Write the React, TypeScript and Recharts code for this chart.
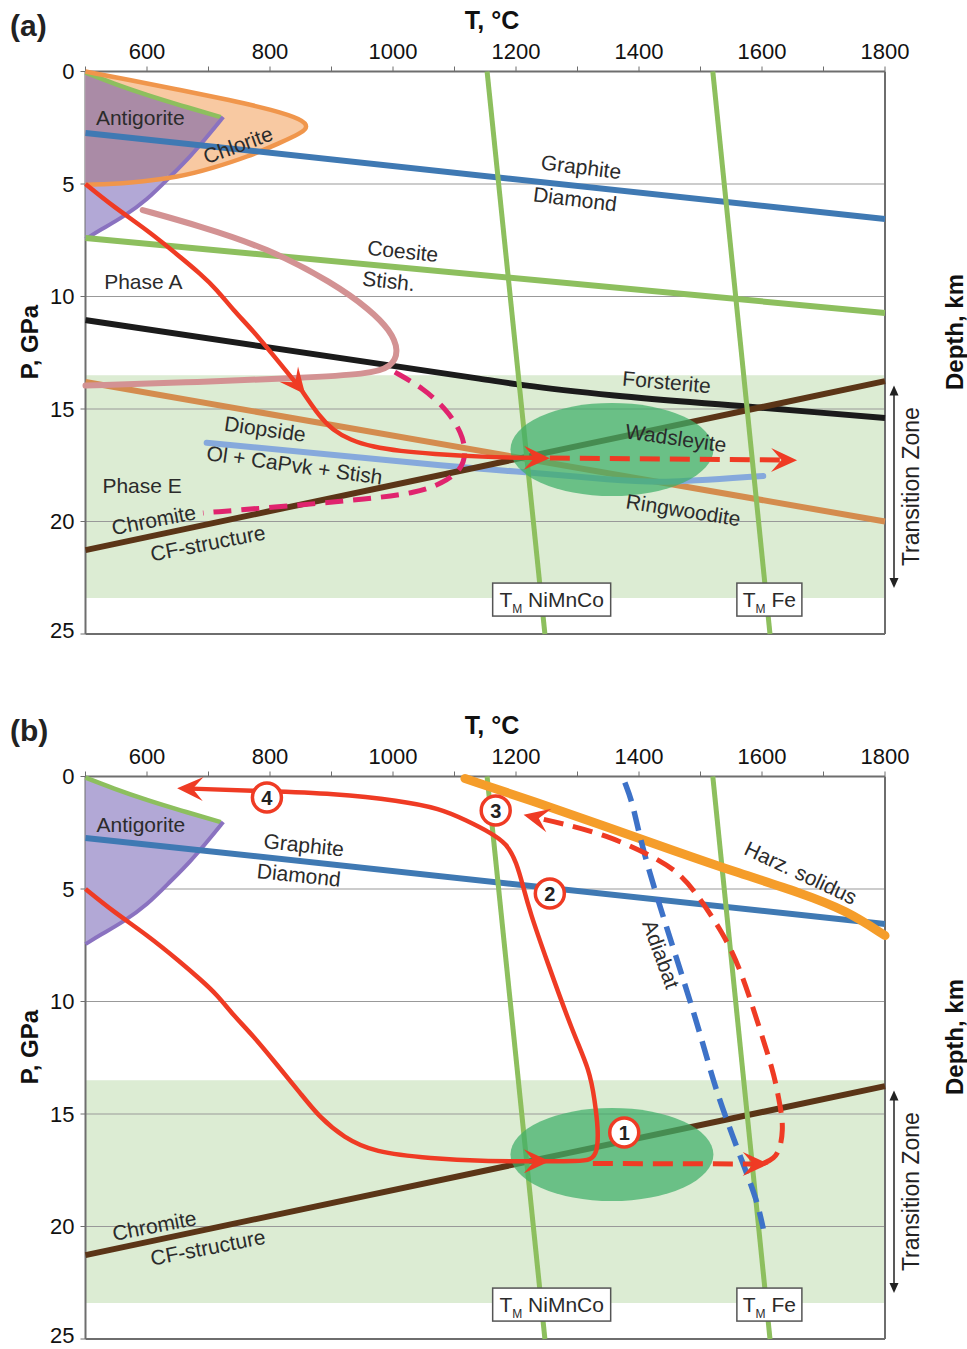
import React from 'react';
import { ComposedChart, XAxis, YAxis, Scatter, ReferenceArea, ReferenceLine, Curve } from 'recharts';

type TP = [number, number]; // [T °C, P GPa]
type Pt = { x: number; y: number };

const FONT = '"Liberation Sans", Arial, Helvetica, sans-serif';

// axes
const T_TICKS = [500, 600, 700, 800, 900, 1000, 1100, 1200, 1300, 1400, 1500, 1600, 1700, 1800];
const P_TICKS = [0, 5, 10, 15, 20, 25];
const P_GRID = [5, 10, 15, 20];
const DEPTH_P = [6.56, 13.55, 23.5];
const DEPTH_KM = ['200', '410', '660'];
const TZ_P: TP = [13.5, 23.4];
const TZ_ARROW: TP[] = [[1800, 13.95], [1800, 22.95]];

// metal melting curves
const TM_NIMNCO: TP[] = [[1153, 0], [1247, 25]];
const TM_FE: TP[] = [[1520, 0], [1613, 25]];

// phase boundaries
const GRAPHITE_DIAMOND: TP[] = [[500, 2.73], [1800, 6.56]];
const COESITE_STISH: TP[] = [[500, 7.4], [1800, 10.73]];
const FORSTERITE_WADS: TP[] = [[500, 11.05], [1140, 13.65], [1215, 13.95], [1360, 14.4], [1580, 14.9], [1800, 15.4]];
const DIOPSIDE: TP[] = [[500, 13.8], [1800, 20.0]];
const OL_CAPVK: TP[] = [[697, 16.5], [1077, 17.5], [1211, 17.8], [1348, 18.12], [1455, 18.22], [1602, 17.98]];
const CHROMITE_CF: TP[] = [[500, 21.27], [1800, 13.76]];
const PHASE_A: TP[] = [[593, 6.16], [686, 6.87], [795, 7.84], [903, 9.4], [963, 10.6], [995, 11.49], [1010, 12.4], [998, 13.15], [960, 13.45], [849, 13.62], [686, 13.8], [500, 13.96]];
const PHASE_E: TP[] = [[1003, 13.36], [1049, 14.07], [1088, 15.04], [1112, 16.07], [1119, 16.96], [1111, 17.71], [1081, 18.29], [1039, 18.73], [957, 19.0], [849, 19.27], [691, 19.62]];

// hydrous phase fields
const CHLORITE: TP[] = [[500, 0], [572, 0.38], [654, 0.82], [735, 1.27], [805, 1.71], [852, 2.13], [862, 2.45], [852, 2.72], [816, 3.18], [763, 3.8], [707, 4.29], [654, 4.69], [572, 4.96], [500, 5.04]];
const ANTIGORITE: TP[] = [[500, 0.05], [545, 0.53], [600, 1.05], [654, 1.5], [714, 2.0], [724, 2.02], [703, 2.73], [670, 3.8], [637, 4.69], [600, 5.71], [561, 6.47], [524, 7.04], [500, 7.45]];
const ANTIG_CHLORITE: TP[] = [[500, 0.05], [545, 0.53], [600, 1.05], [654, 1.5], [714, 2.0], [724, 2.02], [703, 2.73], [670, 3.8], [645, 4.55], [600, 4.86], [500, 5.0]];
const ANTIG_TOP: TP[] = [[500, 0.05], [545, 0.53], [600, 1.05], [654, 1.5], [720, 2.03]];
const ANTIG_EDGE: TP[] = [[724, 2.02], [703, 2.73], [670, 3.8], [637, 4.69], [600, 5.71], [561, 6.47], [524, 7.04], [500, 7.45]];

// diamond growth region (ellipse extremes)
const GROWTH_ZONE: TP[] = [[1191, 16.8], [1521, 16.8], [1356, 14.73], [1356, 18.87]];

// (a) slab path
const PATH_A1: TP[] = [[500, 5.0], [545, 6.0], [600, 7.04], [654, 8.24], [686, 8.97], [714, 9.7], [740, 10.6], [772, 11.5], [811, 12.8], [849, 14.07]];
const PATH_A2: TP[] = [[849, 14.07], [881, 15.36], [902, 15.93], [930, 16.38], [968, 16.69], [1011, 16.87], [1065, 17.0], [1141, 17.13], [1242, 17.18]];
const PATH_A3: TP[] = [[1255, 17.18], [1644, 17.27]];

// (b) exhumation paths
const HARZ_SOLIDUS: TP[] = [[1117, 0.09], [1239, 1.2], [1348, 2.24], [1456, 3.29], [1564, 4.31], [1662, 5.16], [1738, 5.96], [1800, 7.07]];
const ADIABAT: TP[] = [[1377, 0.27], [1390, 1.2], [1401, 2.7], [1429, 5.4], [1494, 10.84], [1520, 13.5], [1543, 15.3], [1569, 17.2], [1592, 18.84], [1602, 20.1]];
const PATH_B1: TP[] = [[500, 5.0], [545, 6.0], [600, 7.04], [654, 8.24], [686, 9.0], [714, 9.7], [740, 10.6], [772, 11.5], [811, 12.8], [850, 14.1], [881, 15.16], [920, 16.04], [968, 16.7], [1065, 16.98], [1141, 17.1], [1242, 17.1]];
const PATH_B2: TP[] = [[1242, 17.1], [1300, 17.1], [1322, 17.05], [1332, 16.7], [1334, 15.73], [1328, 14.4], [1320, 13.07], [1293, 11.42], [1250, 8.18], [1222, 5.96], [1212, 4.93], [1201, 3.82], [1185, 2.98], [1158, 2.49], [1120, 1.96], [1076, 1.42], [1011, 1.07], [903, 0.76], [795, 0.65], [662, 0.53]];
const PATH_B3: TP[] = [[1325, 17.2], [1598, 17.22]];
const PATH_B4: TP[] = [[1600, 17.22], [1620, 17.0], [1630, 16.5], [1634, 15.7], [1632, 15.0], [1625, 14.0], [1618, 13.07], [1592, 10.84], [1564, 8.49], [1537, 6.98], [1494, 5.2], [1462, 4.18], [1413, 3.42], [1348, 2.62], [1276, 2.09], [1225, 1.78]];
const STEPS = [
  { t: 1376, p: 15.82, text: '1' },
  { t: 1255, p: 5.2, text: '2' },
  { t: 1167, p: 1.51, text: '3' },
  { t: 795, p: 0.93, text: '4' },
];

// annotations
const LABELS_A = [
  { t: 589, p: 2.07, text: 'Antigorite', angle: 0 },
  { t: 748, p: 3.27, text: 'Chlorite', angle: -20 },
  { t: 1306, p: 4.24, text: 'Graphite', angle: 7 },
  { t: 1296, p: 5.67, text: 'Diamond', angle: 7 },
  { t: 1016, p: 7.98, text: 'Coesite', angle: 6 },
  { t: 993, p: 9.31, text: 'Stish.', angle: 6 },
  { t: 594, p: 9.36, text: 'Phase A', angle: 0 },
  { t: 1445, p: 13.8, text: 'Forsterite', angle: 5 },
  { t: 1460, p: 16.29, text: 'Wadsleyite', angle: 8 },
  { t: 792, p: 15.89, text: 'Diopside', angle: 8 },
  { t: 840, p: 17.49, text: 'Ol + CaPvk + Stish', angle: 8 },
  { t: 592, p: 18.42, text: 'Phase E', angle: 0 },
  { t: 611, p: 19.93, text: 'Chromite', angle: -11 },
  { t: 699, p: 20.96, text: 'CF-structure', angle: -11 },
  { t: 1472, p: 19.49, text: 'Ringwoodite', angle: 9 },
];
const LABELS_B = [
  { t: 590, p: 2.16, text: 'Antigorite', angle: 0 },
  { t: 855, p: 3.04, text: 'Graphite', angle: 6 },
  { t: 847, p: 4.38, text: 'Diamond', angle: 6 },
  { t: 1436, p: 7.9, text: 'Adiabat', angle: 70 },
  { t: 1663, p: 4.28, text: 'Harz. solidus', angle: 25 },
  { t: 612, p: 19.96, text: 'Chromite', angle: -11 },
  { t: 699, p: 20.93, text: 'CF-structure', angle: -11 },
];
const TM_BOXES = [
  { t: 1258, p: 23.47, text: 'NiMnCo' },
  { t: 1612, p: 23.47, text: 'Fe' },
];

const RED = '#ef3b24';
const GREEN = '#8dbf5e';
const BOX_W: Record<string, number> = { NiMnCo: 118, Fe: 65 };

const rows = (pts: TP[]) => pts.map(([t, p]) => ({ t, p }));
const noDot = () => <g />;

function arrowHead(pts: Pt[], color: string) {
  const n = pts.length;
  const tip = pts[n - 1];
  let k = n - 2;
  while (k > 0 && Math.hypot(tip.x - pts[k].x, tip.y - pts[k].y) < 15) k--;
  const a = Math.atan2(tip.y - pts[k].y, tip.x - pts[k].x);
  const L = 26, W = 12, ext = 8;
  const c = Math.cos(a), s = Math.sin(a);
  const local = [[ext, 0], [ext - L, -W], [ext - 0.6 * L, 0], [ext - L, W]];
  const d = local.map(([u, v]) => `${tip.x + u * c - v * s},${tip.y + u * s + v * c}`).join(' ');
  return <polygon points={d} fill={color} />;
}

type CurveOpts = { stroke?: string; width?: number; fill?: string; type?: string; dash?: string; arrow?: boolean; cap?: string };

function curve(key: string, pts: TP[], o: CurveOpts) {
  return (
    <Scatter
      key={key}
      data={rows(pts)}
      shape={noDot}
      isAnimationActive={false}
      line={(lp: any) => (
        <g>
          <Curve
            type={(o.type ?? 'basis') as any}
            points={lp.points}
            stroke={o.stroke ?? 'none'}
            strokeWidth={o.width ?? 0}
            fill={o.fill ?? 'none'}
            strokeDasharray={o.dash}
            strokeLinecap={(o.cap ?? 'butt') as any}
            strokeLinejoin="round"
          />
          {o.arrow && arrowHead(lp.points, o.stroke ?? RED)}
        </g>
      )}
    />
  );
}

function ellipse(key: string, pts: TP[]) {
  return (
    <Scatter
      key={key}
      data={rows(pts)}
      shape={noDot}
      isAnimationActive={false}
      line={(lp: any) => {
        const xs = lp.points.map((q: Pt) => q.x);
        const ys = lp.points.map((q: Pt) => q.y);
        const x0 = Math.min(...xs), x1 = Math.max(...xs), y0 = Math.min(...ys), y1 = Math.max(...ys);
        return <ellipse cx={(x0 + x1) / 2} cy={(y0 + y1) / 2} rx={(x1 - x0) / 2} ry={(y1 - y0) / 2} fill="#3fae68" fillOpacity={0.72} />;
      }}
    />
  );
}

const textShape = (sp: any) => {
  const d = sp.payload ?? sp;
  return (
    <text x={sp.cx} y={sp.cy} dy="0.35em" textAnchor="middle" fontSize={21} fill="#2b2b2b" fontFamily={FONT}
      transform={d.angle ? `rotate(${d.angle} ${sp.cx} ${sp.cy})` : undefined}>
      {d.text}
    </text>
  );
};

const stepShape = (sp: any) => (
  <g>
    <circle cx={sp.cx} cy={sp.cy} r={14.5} fill="#fff" stroke={RED} strokeWidth={3.5} />
    <text x={sp.cx} y={sp.cy} dy="0.36em" textAnchor="middle" fontSize={20} fontWeight="bold" fill="#222" fontFamily={FONT}>
      {(sp.payload ?? sp).text}
    </text>
  </g>
);

const boxShape = (sp: any) => {
  const d = sp.payload ?? sp;
  const w = BOX_W[d.text];
  return (
    <g>
      <rect x={sp.cx - w / 2} y={sp.cy - 16.5} width={w} height={33} fill="#fff" stroke="#555" strokeWidth={1.5} />
      <text x={sp.cx} y={sp.cy} dy="0.35em" textAnchor="middle" fontSize={21} fill="#2b2b2b" fontFamily={FONT}>
        <tspan>T</tspan>
        <tspan fontSize={12} dy={6}>M</tspan>
        <tspan dy={-6}>{' ' + d.text}</tspan>
      </text>
    </g>
  );
};

function labels(key: string, items: any[], shape: any) {
  return <Scatter key={key} data={items} shape={shape} isAnimationActive={false} />;
}

const tzArrow = (lp: any) => {
  const [a, b] = lp.points as Pt[];
  const x = a.x + 9;
  const mid = (a.y + b.y) / 2;
  const tx = a.x + 26;
  return (
    <g>
      <line x1={x} y1={a.y + 8} x2={x} y2={b.y - 8} stroke="#222" strokeWidth={1.5} />
      <polygon points={`${x},${a.y} ${x - 4.5},${a.y + 10} ${x + 4.5},${a.y + 10}`} fill="#222" />
      <polygon points={`${x},${b.y} ${x - 4.5},${b.y - 10} ${x + 4.5},${b.y - 10}`} fill="#222" />
      <text x={tx} y={mid} dy="0.35em" textAnchor="middle" transform={`rotate(-90 ${tx} ${mid})`} fontSize={23} fill="#222" fontFamily={FONT}>
        Transition Zone
      </text>
    </g>
  );
};

// left P ticks; the bottom one is nudged up so it stays inside the page
const pTick = (tp: any) => (
  <text x={tp.x} y={tp.y - (tp.payload.value === 25 ? 4 : 0)} dy="0.35em" textAnchor="end" fontSize={22} fill="#111" fontFamily={FONT}>
    {tp.payload.value}
  </text>
);

const layersA = [
  curve('chl-fill', CHLORITE, { fill: '#f8c9a2' }),
  curve('atg-fill', ANTIGORITE, { fill: '#b2a8d6', type: 'linear' }),
  curve('atg-chl', ANTIG_CHLORITE, { fill: '#aa8ba6', type: 'linear' }),
  curve('atg-top', ANTIG_TOP, { stroke: GREEN, width: 4.5 }),
  curve('atg-edge', ANTIG_EDGE, { stroke: '#8a72c0', width: 4 }),
  curve('chl-edge', CHLORITE, { stroke: '#f0964c', width: 4.5 }),
  curve('gd', GRAPHITE_DIAMOND, { stroke: '#3f79b3', width: 6, type: 'linear' }),
  curve('cs', COESITE_STISH, { stroke: GREEN, width: 6, type: 'linear' }),
  curve('fo', FORSTERITE_WADS, { stroke: '#1b1b1b', width: 6, type: 'monotone' }),
  curve('di', DIOPSIDE, { stroke: '#d48c4e', width: 6, type: 'linear' }),
  curve('ol', OL_CAPVK, { stroke: '#86a9dc', width: 6, cap: 'round', type: 'natural' }),
  curve('cf', CHROMITE_CF, { stroke: '#5b3517', width: 6, type: 'linear' }),
  curve('pha', PHASE_A, { stroke: '#d39293', width: 6, cap: 'round' }),
  curve('tm1', TM_NIMNCO, { stroke: GREEN, width: 5, type: 'linear' }),
  curve('tm2', TM_FE, { stroke: GREEN, width: 5, type: 'linear' }),
  ellipse('zone', GROWTH_ZONE),
  curve('phe', PHASE_E, { stroke: '#e0246e', width: 5, dash: '18 10' }),
  curve('pa1', PATH_A1, { stroke: RED, width: 4.5, arrow: true }),
  curve('pa2', PATH_A2, { stroke: RED, width: 4.5, arrow: true }),
  curve('pa3', PATH_A3, { stroke: RED, width: 5, dash: '20 10', type: 'linear', arrow: true }),
  labels('lab', LABELS_A, textShape),
  labels('box', TM_BOXES, boxShape),
];

const layersB = [
  curve('atg-fill', ANTIGORITE, { fill: '#b2a8d6', type: 'linear' }),
  curve('atg-top', ANTIG_TOP, { stroke: GREEN, width: 4.5 }),
  curve('atg-edge', ANTIG_EDGE, { stroke: '#8a72c0', width: 4 }),
  curve('gd', GRAPHITE_DIAMOND, { stroke: '#3f79b3', width: 6, type: 'linear' }),
  curve('cf', CHROMITE_CF, { stroke: '#5b3517', width: 6, type: 'linear' }),
  curve('tm1', TM_NIMNCO, { stroke: GREEN, width: 5, type: 'linear' }),
  curve('tm2', TM_FE, { stroke: GREEN, width: 5, type: 'linear' }),
  curve('harz', HARZ_SOLIDUS, { stroke: '#f59d2a', width: 9, cap: 'round' }),
  curve('adi', ADIABAT, { stroke: '#3d72c8', width: 5.5, dash: '20 10' }),
  ellipse('zone', GROWTH_ZONE),
  curve('pb1', PATH_B1, { stroke: RED, width: 4.5, arrow: true }),
  curve('pb2', PATH_B2, { stroke: RED, width: 4.5, arrow: true }),
  curve('pb3', PATH_B3, { stroke: RED, width: 5, dash: '20 10', type: 'linear', arrow: true }),
  curve('pb4', PATH_B4, { stroke: RED, width: 5, dash: '20 10', arrow: true }),
  labels('steps', STEPS, stepShape),
  labels('lab', LABELS_B, textShape),
  labels('box', TM_BOXES, boxShape),
];

const axisStroke = '#6e6e6e';

function Panel({ top, tag, layers }: { top: number; tag: string; layers: React.ReactNode[] }) {
  return (
    <div style={{ position: 'absolute', left: 0, top, width: 967, height: 660 }}>
      <ComposedChart width={967} height={660} margin={{ top: 40, right: 20, bottom: 26, left: 0 }}>
        <XAxis type="number" dataKey="t" orientation="top" domain={[500, 1800]} ticks={T_TICKS} interval={0}
          tickFormatter={(v: number) => (v % 200 === 0 ? String(v) : '')} height={31.5}
          axisLine={{ stroke: axisStroke, strokeWidth: 2 }} tickLine={{ stroke: axisStroke }} tickSize={5} tickMargin={8}
          tick={{ fill: '#111', fontSize: 22, fontFamily: FONT }} />
        <YAxis type="number" dataKey="p" domain={[0, 25]} reversed ticks={P_TICKS} interval={0} width={85.5}
          axisLine={{ stroke: axisStroke, strokeWidth: 2 }} tickLine={{ stroke: axisStroke }} tickSize={5} tickMargin={6}
          tick={pTick} />
        <YAxis yAxisId="depth" orientation="right" type="number" dataKey="p" domain={[0, 25]} reversed ticks={DEPTH_P} interval={0}
          width={62} tickFormatter={(v: number) => DEPTH_KM[DEPTH_P.indexOf(v)] ?? ''}
          axisLine={{ stroke: axisStroke, strokeWidth: 2 }} tickLine={false} tickSize={0} tickMargin={6}
          tick={{ fill: '#111', fontSize: 22, fontFamily: FONT }} />
        <ReferenceArea y1={TZ_P[0]} y2={TZ_P[1]} fill="#d3e7c8" fillOpacity={0.8} stroke="none" />
        {P_GRID.map((g) => (
          <ReferenceLine key={g} y={g} stroke="#999" strokeWidth={1.2} />
        ))}
        <ReferenceLine y={25} stroke={axisStroke} strokeWidth={2} />
        {layers}
        <Scatter data={rows(TZ_ARROW)} shape={noDot} line={tzArrow} isAnimationActive={false} />
      </ComposedChart>
      <div style={{ position: 'absolute', left: 10, top: 11, fontSize: 30, fontWeight: 'bold', lineHeight: 1, fontFamily: FONT, color: '#222' }}>{tag}</div>
      <div style={{ position: 'absolute', left: 492, top: 8, transform: 'translateX(-50%)', fontSize: 25, fontWeight: 'bold', lineHeight: 1, fontFamily: FONT, color: '#111', whiteSpace: 'nowrap' }}>T, °C</div>
      <div style={{ position: 'absolute', left: 30, top: 342, transform: 'translate(-50%, -50%) rotate(-90deg)', fontSize: 24, fontWeight: 'bold', lineHeight: 1, fontFamily: FONT, color: '#111', whiteSpace: 'nowrap' }}>P, GPa</div>
      <div style={{ position: 'absolute', left: 955, top: 332, transform: 'translate(-50%, -50%) rotate(-90deg)', fontSize: 24, fontWeight: 'bold', lineHeight: 1, fontFamily: FONT, color: '#111', whiteSpace: 'nowrap' }}>Depth, km</div>
    </div>
  );
}

export default function App() {
  return (
    <div style={{ position: 'absolute', left: 0, top: 0, width: 967, height: 1349, background: '#fff', overflow: 'hidden' }}>
      <Panel top={0} tag="(a)" layers={layersA} />
      <Panel top={705} tag="(b)" layers={layersB} />
    </div>
  );
}
